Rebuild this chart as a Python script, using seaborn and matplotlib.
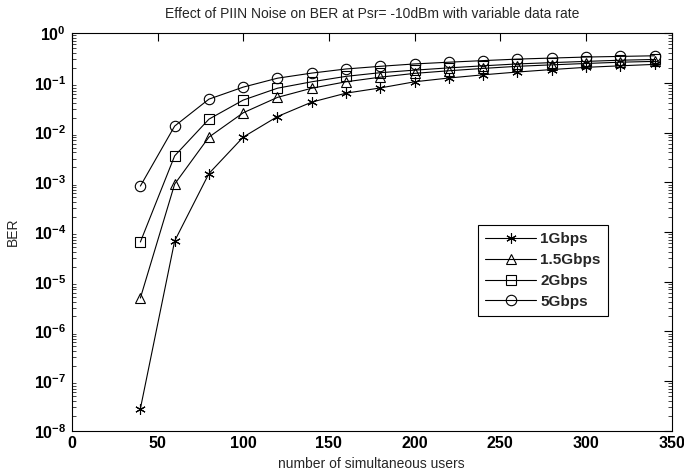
import numpy as np
import pandas as pd
import matplotlib
matplotlib.use("Agg")
import matplotlib.pyplot as plt
import matplotlib.ticker as mticker
import seaborn as sns

users = [40, 60, 80, 100, 120, 140, 160, 180, 200, 220, 240, 260, 280, 300, 320, 340]
ber_1g = [2.8e-8, 6.6e-5, 1.5e-3, 8.1e-3, 2.1e-2, 4.1e-2, 6.2e-2, 7.9e-2, 0.105, 0.125, 0.145, 0.165, 0.185, 0.205, 0.22, 0.235]
ber_15g = [4.7e-6, 9.2e-4, 8.1e-3, 2.5e-2, 5.1e-2, 7.8e-2, 0.105, 0.13, 0.155, 0.175, 0.195, 0.215, 0.23, 0.245, 0.26, 0.27]
ber_2g = [6.3e-5, 3.4e-3, 1.86e-2, 4.5e-2, 7.8e-2, 0.105, 0.135, 0.16, 0.18, 0.2, 0.22, 0.24, 0.255, 0.27, 0.285, 0.295]
ber_5g = [8.4e-4, 1.35e-2, 4.7e-2, 8.2e-2, 0.124, 0.157, 0.19, 0.215, 0.24, 0.26, 0.28, 0.3, 0.315, 0.33, 0.34, 0.35]
series_names = ["1Gbps", "1.5Gbps", "2Gbps", "5Gbps"]
x_ticks = [0, 50, 100, 150, 200, 250, 300, 350]
title = "Effect of PIIN Noise on BER at Psr= -10dBm with variable data rate"
xlabel = "number of simultaneous users"
ylabel = "BER"

sns.set_theme(style="white")
plt.rcParams["font.family"] = ["Liberation Sans", "DejaVu Sans"]
plt.rcParams["mathtext.fontset"] = "custom"
plt.rcParams["mathtext.rm"] = "Liberation Sans:bold"
plt.rcParams["mathtext.bf"] = "Liberation Sans:bold"
plt.rcParams["mathtext.it"] = "Liberation Sans:bold"

frames = []
for name, vals in zip(series_names, [ber_1g, ber_15g, ber_2g, ber_5g]):
    frames.append(pd.DataFrame({"users": users, "BER": vals, "rate": name}))
df = pd.concat(frames, ignore_index=True)

fig = plt.figure(figsize=(6.84, 4.73), dpi=100)
ax = fig.add_axes([0.105, 0.089, 0.877, 0.841])

markers = {"1Gbps": (6, 2, 0), "1.5Gbps": "^", "2Gbps": "s", "5Gbps": "o"}
sizes = {"1Gbps": 7.5, "1.5Gbps": 7.5, "2Gbps": 7, "5Gbps": 7.5}
for name in series_names:
    sub = df[df["rate"] == name]
    sns.lineplot(data=sub, x="users", y="BER", marker=markers[name],
                 color="black", linewidth=0.8, markersize=sizes[name],
                 markerfacecolor="none", markeredgecolor="black", markeredgewidth=0.8,
                 ax=ax, label=name)

ax.set_yscale("log")
ax.set_xlim(0, 350)
ax.set_ylim(1e-8, 1)
ax.set_xticks(x_ticks)
ax.set_yticks([10.0 ** k for k in range(-8, 1)])
ax.yaxis.set_major_formatter(mticker.FuncFormatter(lambda v, p: r"$10^{%d}$" % int(round(np.log10(v)))))
ax.yaxis.set_minor_locator(mticker.LogLocator(base=10, subs=np.arange(2, 10), numticks=20))
ax.yaxis.set_minor_formatter(mticker.NullFormatter())
ax.xaxis.set_major_formatter(mticker.FuncFormatter(lambda v, p: "%d" % v))

ax.tick_params(axis="both", which="major", direction="in", length=6, width=0.8,
               top=True, right=True, labelsize=11.5, pad=4, colors="black")
ax.tick_params(axis="y", which="minor", direction="in", length=3, width=0.6,
               left=True, right=True)
for lab in ax.get_xticklabels():
    lab.set_fontweight("bold")
for sp in ax.spines.values():
    sp.set_color("black")
    sp.set_linewidth(0.8)

ax.set_title(title, fontsize=10, pad=11)
ax.set_xlabel(xlabel, fontsize=10, labelpad=4)
ax.set_ylabel(ylabel, fontsize=10, labelpad=10)

handles, labels = ax.get_legend_handles_labels()
leg = ax.legend(handles, labels, loc="upper left", bbox_to_anchor=(0.664, 0.538),
                frameon=True, fancybox=False, edgecolor="black", framealpha=1,
                prop={"weight": "bold", "size": 11}, handlelength=3.3, borderpad=0.5,
                labelspacing=0.45, handletextpad=0.3)
leg.get_frame().set_linewidth(0.8)

fig.savefig("out.png", dpi=100)
